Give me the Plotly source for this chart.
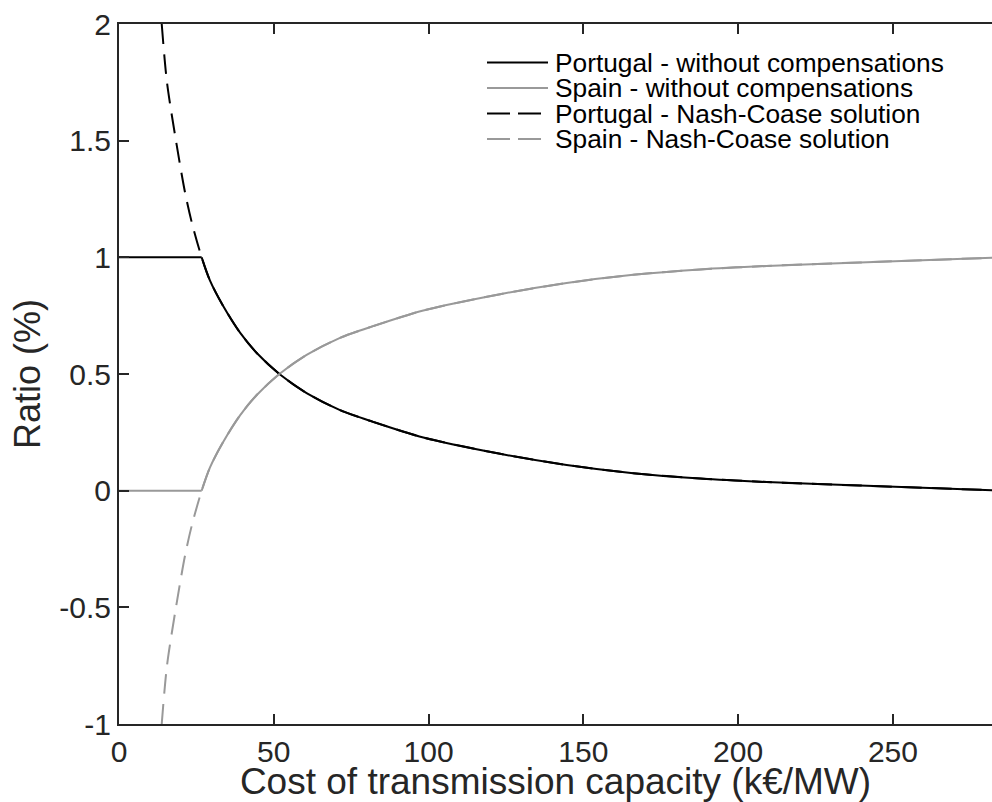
import plotly.graph_objects as go

# ---- data ----
# shared curve (x >= kink) : cost of transmission capacity (k€/MW)
x_curve = [26.7, 29.4, 33.7, 39.1, 44.5, 51.8, 60.6, 71.4, 82.1, 98.3,
           123.1, 144.6, 166.1, 187.7, 209.2, 239.3, 282.0]
portugal_curve = [1.0, 0.90, 0.79, 0.677, 0.59, 0.50, 0.418, 0.345, 0.295, 0.228,
                  0.158, 0.11, 0.075, 0.052, 0.037, 0.022, 0.002]
spain_curve = [0.0, 0.10, 0.21, 0.323, 0.41, 0.50, 0.582, 0.655, 0.705, 0.772,
               0.842, 0.89, 0.925, 0.948, 0.963, 0.978, 0.998]

# flat part without compensations (up to the kink)
x_flat = [0.0, 26.7]
portugal_flat = [1.0, 1.0]
spain_flat = [0.0, 0.0]

# Nash-Coase solution, part below the kink
x_nc_head = [13.8, 15.5, 18.4, 21.3, 23.5]
portugal_nc_head = [2.0, 1.75, 1.5, 1.28, 1.15]
spain_nc_head = [-1.0, -0.75, -0.5, -0.28, -0.15]

x_ticks = [0, 50, 100, 150, 200, 250]
y_ticks = [-1, -0.5, 0, 0.5, 1, 1.5, 2]
y_ticktext = ["-1", "-0.5", "0", "0.5", "1", "1.5", "2"]

names = ["Portugal - without compensations", "Spain - without compensations",
         "Portugal - Nash-Coase solution", "Spain - Nash-Coase solution"]

BLACK = "#000000"
GRAY = "#999999"
AXC = "#262626"
FONT = "Liberation Sans, Arial, Helvetica, sans-serif"
PLOT_DASH = "20px,10px"
LEG_DASH = "23px,8px"
SM = 0.8

fig = go.Figure()
# Portugal - without compensations (flat part + curve)
fig.add_trace(go.Scatter(x=x_flat, y=portugal_flat, mode="lines", name=names[0],
                         legendgroup="p", line=dict(color=BLACK, width=2)))
fig.add_trace(go.Scatter(x=x_curve, y=portugal_curve, mode="lines", name=names[0],
                         legendgroup="p", line=dict(color=BLACK, width=2, shape="spline", smoothing=SM)))
# Spain - without compensations
fig.add_trace(go.Scatter(x=x_flat, y=spain_flat, mode="lines", name=names[1],
                         legendgroup="s", line=dict(color=GRAY, width=2)))
fig.add_trace(go.Scatter(x=x_curve, y=spain_curve, mode="lines", name=names[1],
                         legendgroup="s", line=dict(color=GRAY, width=2, shape="spline", smoothing=SM)))
# Nash-Coase solutions
fig.add_trace(go.Scatter(x=x_nc_head + x_curve, y=portugal_nc_head + portugal_curve, mode="lines",
                         name=names[2], line=dict(color=BLACK, width=2, dash=PLOT_DASH,
                                                  shape="spline", smoothing=SM)))
fig.add_trace(go.Scatter(x=x_nc_head + x_curve, y=spain_nc_head + spain_curve, mode="lines",
                         name=names[3], line=dict(color=GRAY, width=2, dash=PLOT_DASH,
                                                  shape="spline", smoothing=SM)))

W, H = 992, 802
ML, MR, MT, MB = 119, 0, 24, 78
pw, ph = W - ML - MR, H - MT - MB

def px2paper(px, py):
    return (px - ML) / pw, (H - MB - py) / ph

# manual legend (long line samples like the original)
leg_rows = [62.5, 88.0, 113.5, 139.0]
leg_colors = [BLACK, GRAY, BLACK, GRAY]
leg_dash = ["solid", "solid", LEG_DASH, LEG_DASH]
shapes = []
annotations = []
for name, py, c, d in zip(names, leg_rows, leg_colors, leg_dash):
    x0, y0 = px2paper(487, py)
    x1, _ = px2paper(548, py)
    shapes.append(dict(type="line", xref="paper", yref="paper", x0=x0, x1=x1, y0=y0, y1=y0,
                       line=dict(color=c, width=2, dash=d)))
    tx, ty = px2paper(553, py)
    annotations.append(dict(xref="paper", yref="paper", x=tx, y=ty, xanchor="left",
                            yanchor="middle", text=name, showarrow=False,
                            font=dict(family=FONT, size=26.3, color="#000000")))

fig.update_layout(
    width=W, height=H,
    margin=dict(l=ML, r=MR, t=MT, b=MB, pad=0),
    paper_bgcolor="white", plot_bgcolor="white",
    showlegend=False,
    font=dict(family=FONT, color=AXC),
    shapes=shapes, annotations=annotations,
    xaxis=dict(range=[0, 282], tickvals=x_ticks, ticks="inside", ticklen=10, tickwidth=2,
               tickcolor=AXC, showline=True, linecolor=AXC, linewidth=2, mirror="ticks",
               showgrid=False, zeroline=False, tickfont=dict(size=30, color=AXC),
               title=dict(text="Cost of transmission capacity (k€/MW)",
                          font=dict(size=37, color=AXC), standoff=4)),
    yaxis=dict(range=[-1, 2], tickvals=y_ticks, ticktext=y_ticktext, ticks="inside",
               ticklen=10, tickwidth=2, tickcolor=AXC, showline=True, linecolor=AXC,
               linewidth=2, mirror=False, showgrid=False, zeroline=False,
               tickfont=dict(size=30, color=AXC),
               title=dict(text="Ratio (%)", font=dict(size=36, color=AXC), standoff=8)),
)

fig.write_html("out.html")
